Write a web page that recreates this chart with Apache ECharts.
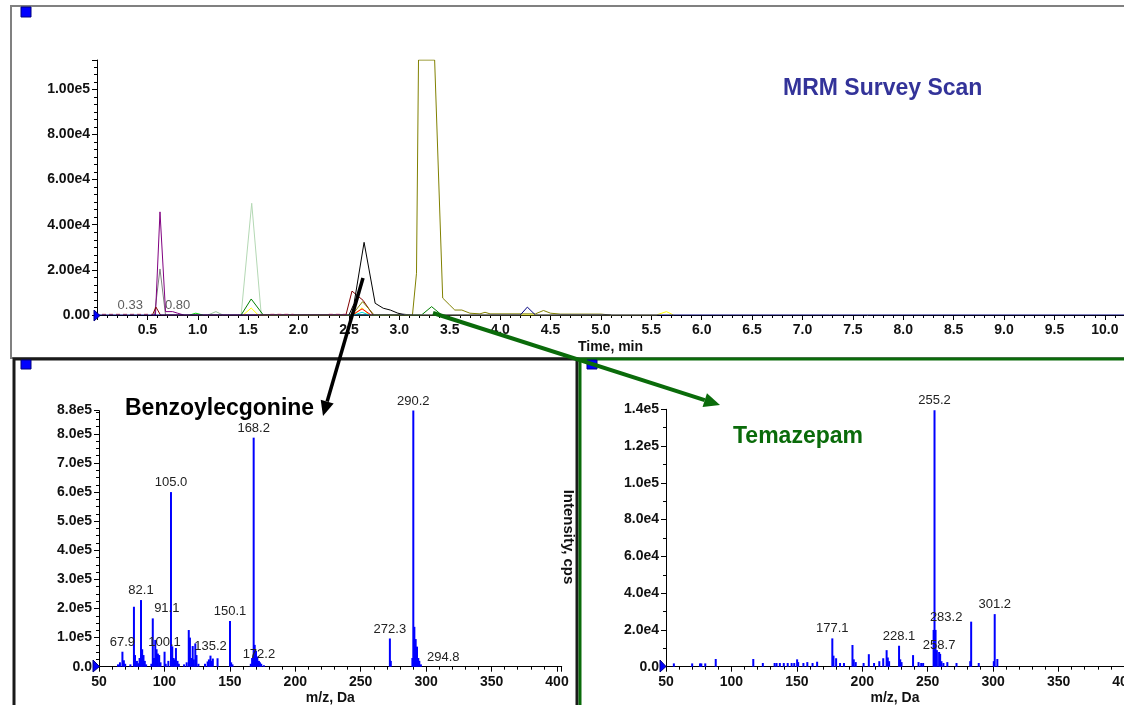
<!DOCTYPE html>
<html>
<head>
<meta charset="utf-8">
<script src="https://cdn.jsdelivr.net/npm/echarts@6/dist/echarts.min.js"></script>
<style>
  html, body { margin: 0; padding: 0; background: #fff; }
  #chart { width: 1124px; height: 705px; }
</style>
</head>
<body>
<div id="chart"></div>
<script>
// MRM survey scan traces, [time min, intensity cps]
var purpleTrace = [[0.55, 0], [0.58, 0], [0.625, 45700], [0.68, 1500], [0.75, 1500], [0.8, 800], [0.86, 0]];
var grayTrace = [[0.57, 0], [0.625, 20400], [0.68, 0], [2.95, 0], [3.02, 600], [3.1, 0]];
var darkRedTrace = [[0.55, 0], [0.585, 3500], [0.63, 0], [2.47, 0], [2.53, 10600], [2.64, 6500], [2.74, 0]];
var paleGreenTrace = [[1.43, 0], [1.535, 49500], [1.63, 0]];
var greenTrace = [[1.43, 0], [1.53, 7100], [1.65, 0], [3.22, 0], [3.32, 3700], [3.42, 0]];
var yellowTrace = [[1.45, 0], [1.53, 3100], [1.6, 0], [2.55, 0], [2.63, 3200], [2.7, 0], [5.55, 0], [5.65, 1500], [5.72, 0]];
var limeTrace = [[0.92, 0], [0.98, 800], [1.05, 0]];
var sageTrace = [[1.1, 0], [1.18, 1500], [1.25, 0]];
var blackTrace = [[2.5, 0], [2.55, 5000], [2.65, 32200], [2.76, 5200], [2.84, 3000], [2.91, 2200], [2.98, 900], [3.05, 0]];
var oliveTrace = [[2.53, 0], [2.635, 5900], [2.75, 0], [3.13, 0], [3.17, 18500], [3.19, 113000], [3.35, 113000], [3.43, 7500],
  [3.5, 4400], [3.55, 2200], [3.62, 2200], [3.7, 800], [3.8, 500], [3.85, 1200], [3.9, 500], [4.35, 500], [4.43, 2000],
  [4.5, 800], [4.6, 400], [5.0, 400], [5.1, 0]];
var redTrace = [[2.53, 0], [2.63, 2700], [2.72, 0]];
var cyanTrace = [[2.55, 0], [2.63, 1200], [2.7, 0]];
var noiseTrace = [[0.05, 300], [0.55, 300], [0.6, '-'], [1.72, 300], [1.95, 300], [2.0, '-'], [2.3, 300], [2.5, 300]];
var navyTrace = [[0, 0], [4.2, 0], [4.27, 3500], [4.35, 0], [10.19, 0]];
var rtLabels = [0.33, 0.80];

// product ion spectra, [m/z, intensity cps]
var benzoylPeaks = [
  [64.5, 8000], [66, 15000], [67.9, 51500], [69, 22000], [70, 10000],
  [74, 8000], [76.7, 206000], [77.5, 40000], [79, 20000], [80, 12000], [81, 30000],
  [82.1, 229000], [83, 60000], [84, 40000], [85, 20000], [86, 8000],
  [90, 10000], [91.1, 166000], [92, 30000], [93, 92000], [94, 60000], [95, 45000], [96, 40000], [97, 15000],
  [100.1, 51500], [101, 10000],
  [103, 20000], [105.0, 600000], [106, 70000], [107, 30000], [108, 25000], [108.8, 64000], [110, 20000], [111, 10000],
  [115, 8000], [117, 15000], [118.6, 126000], [119.5, 100000], [120.5, 30000], [121.6, 71000], [122.5, 25000],
  [123.6, 80000], [124.5, 40000], [126, 10000],
  [131, 10000], [133, 18000], [134, 25000], [135.2, 38000], [136, 20000], [137, 28000], [140.6, 29000],
  [150.1, 157000], [151, 15000], [152, 8000],
  [166, 10000], [167, 30000], [168.2, 787000], [169, 75000], [170, 55000], [171, 35000], [172.2, 20000],
  [173, 15000], [174, 10000], [176, 5000],
  [272.3, 97000], [273, 20000],
  [289.5, 30000], [290.2, 880000], [291, 137000], [292, 95000], [293, 69000], [294, 30000], [294.8, 20000], [296, 8000]
];
var benzoylLabels = [67.9, 82.1, 91.1, 100.1, 105.0, 135.2, 150.1, 168.2, 172.2, 272.3, 290.2, 294.8];

var temazepamPeaks = [
  [56, 1800], [70, 1800], [76, 1800], [77, 1800], [80, 1800], [88, 4200], [116.7, 4200], [124, 2000],
  [133, 2000], [134.5, 2000], [137, 2000], [140, 2000], [143, 2000], [146, 2000], [148, 2000],
  [150.2, 4000], [151, 2500], [155, 2000], [158, 2500], [162, 2000], [165.5, 2700],
  [177.1, 15400], [178, 6000], [180, 4600], [183, 2000], [186, 2000],
  [192.5, 11800], [193.5, 4000], [195, 2500], [201, 2000], [205, 6800], [209, 2000],
  [213, 3000], [216, 4600], [218.6, 9000], [219.5, 5000], [220.5, 3000],
  [228.1, 11400], [229, 4000], [230, 2500], [238.8, 6300], [243, 2500], [245, 2000], [246.5, 2000],
  [254.5, 20000], [255.2, 139500], [256, 20000], [257, 9000], [258.7, 8000], [259.5, 7000], [260.5, 3000],
  [262, 2000], [265, 2500], [272, 2000], [282.5, 3000], [283.2, 24500], [289, 2000],
  [300.5, 3000], [301.2, 28600], [303.2, 4200]
];
var temazepamLabels = [177.1, 228.1, 255.2, 258.7, 283.2, 301.2];

// labels that sit beside their peak in the original
var labelShift = { '91.1': [14, 0], '294.8': [24, 6], '283.2': [-25, 5], '172.2': [0, 3], '258.7': [0, 3] };

var boldFont = 'bold 14px "Liberation Sans", Arial, sans-serif';
var green = '#0a6b0a';

function sci(v, digits) {
  if (v === 0) return (0).toFixed(digits);
  return v.toExponential(digits).replace('e+', 'e');
}

function traceSeries(data, color, extra) {
  var s = {
    type: 'line',
    xAxisIndex: 0,
    yAxisIndex: 0,
    data: data,
    symbol: 'none',
    silent: true,
    connectNulls: false,
    lineStyle: { color: color, width: 1 }
  };
  if (extra) s.lineStyle.type = extra;
  return s;
}

function spectrumSeries(peaks, labels, idx) {
  var data = peaks.map(function (p) {
    var item = { value: p };
    if (labels.indexOf(p[0]) !== -1) {
      item.label = { show: true, offset: labelShift[p[0].toFixed(1)] || [0, 0] };
    }
    return item;
  });
  return {
    type: 'bar',
    xAxisIndex: idx,
    yAxisIndex: idx,
    data: data,
    barWidth: 2,
    silent: true,
    itemStyle: { color: '#0000ff' },
    label: {
      show: false,
      position: 'top',
      distance: 3,
      color: '#222',
      fontSize: 13,
      fontFamily: '"Liberation Sans", Arial, sans-serif',
      formatter: function (p) { return p.value[0].toFixed(1); }
    }
  };
}

function valueAxis(idx, opts) {
  var axis = {
    type: 'value',
    gridIndex: idx,
    splitLine: { show: false },
    axisLine: { show: true, lineStyle: { color: '#000', width: 1 } },
    axisTick: { show: true, length: 5, lineStyle: { color: '#000' } },
    minorTick: { show: true, length: 3, lineStyle: { color: '#000' } },
    axisLabel: { color: '#111', font: boldFont, fontWeight: 'bold', fontSize: 14 }
  };
  for (var k in opts) {
    if (k === 'axisLabel' || k === 'minorTick') {
      for (var j in opts[k]) axis[k][j] = opts[k][j];
    } else {
      axis[k] = opts[k];
    }
  }
  return axis;
}

function arrow(x1, y1, x2, y2, color, width, head) {
  var dx = x2 - x1, dy = y2 - y1;
  var len = Math.sqrt(dx * dx + dy * dy);
  var ux = dx / len, uy = dy / len;
  var bx = x2 - ux * head, by = y2 - uy * head;
  var hw = head * 0.45;
  return [
    { type: 'line', z: 100, shape: { x1: x1, y1: y1, x2: bx, y2: by }, style: { stroke: color, lineWidth: width } },
    {
      type: 'polygon', z: 100,
      shape: { points: [[x2, y2], [bx - uy * hw, by + ux * hw], [bx + uy * hw, by - ux * hw]] },
      style: { fill: color }
    }
  ];
}

var chart = echarts.init(document.getElementById('chart'));

var series = [
  traceSeries(paleGreenTrace, '#b4d8b4'),
  traceSeries(sageTrace, '#9cc49c'),
  traceSeries(grayTrace, '#808080'),
  traceSeries(purpleTrace, '#800080'),
  traceSeries(limeTrace, '#00e000'),
  traceSeries(greenTrace, '#008000'),
  traceSeries(yellowTrace, '#ffff00'),
  traceSeries(cyanTrace, '#00e0e0'),
  traceSeries(redTrace, '#ff0000'),
  traceSeries(darkRedTrace, '#800000'),
  traceSeries(blackTrace, '#000000'),
  traceSeries(oliveTrace, '#808000'),
  traceSeries(noiseTrace, '#d04040', [4, 3]),
  traceSeries(navyTrace, '#000080'),
  {
    type: 'scatter',
    xAxisIndex: 0,
    yAxisIndex: 0,
    symbolSize: 0,
    silent: true,
    data: rtLabels.map(function (t) { return [t, 0]; }),
    label: {
      show: true,
      position: 'top',
      distance: 3,
      color: '#333',
      fontSize: 13,
      fontFamily: '"Liberation Sans", Arial, sans-serif',
      formatter: function (p) { return p.value[0].toFixed(2); }
    }
  },
  spectrumSeries(benzoylPeaks, benzoylLabels, 1),
  spectrumSeries(temazepamPeaks, temazepamLabels, 2)
];

var graphics = [
  // panel frames
  { type: 'rect', z: 1, shape: { x: 11, y: 6, width: 1120, height: 352 }, style: { fill: 'none', stroke: '#808080', lineWidth: 2 } },
  { type: 'rect', z: 2, shape: { x: 14, y: 359, width: 563, height: 352 }, style: { fill: 'none', stroke: '#1a1a1a', lineWidth: 3 } },
  { type: 'rect', z: 2, shape: { x: 580, y: 359, width: 552, height: 352 }, style: { fill: 'none', stroke: green, lineWidth: 3 } },
  // window markers
  { type: 'rect', z: 3, shape: { x: 21, y: 7, width: 10, height: 10 }, style: { fill: '#0000ff', stroke: '#000080', lineWidth: 1 } },
  { type: 'rect', z: 3, shape: { x: 21, y: 360, width: 10, height: 9 }, style: { fill: '#0000ff', stroke: '#000080', lineWidth: 1 } },
  { type: 'rect', z: 3, shape: { x: 587, y: 360, width: 10, height: 9 }, style: { fill: '#0000ff', stroke: '#000080', lineWidth: 1 } },
  { type: 'polygon', z: 50, shape: { points: [[94, 310], [100, 315.5], [94, 321]] }, style: { fill: '#0000ff', stroke: '#000080', lineWidth: 1 } },
  { type: 'polygon', z: 50, shape: { points: [[93, 660], [99.5, 666.5], [93, 672]] }, style: { fill: '#0000ff', stroke: '#000080', lineWidth: 1 } },
  { type: 'polygon', z: 50, shape: { points: [[660, 660], [666, 666.5], [660, 672]] }, style: { fill: '#0000ff', stroke: '#000080', lineWidth: 1 } },
  // titles
  {
    type: 'text', z: 60, x: 783, y: 89,
    style: { text: 'MRM Survey Scan', fill: '#333399', font: 'bold 23px "Liberation Sans", Arial, sans-serif', textAlign: 'left', textVerticalAlign: 'middle' }
  },
  {
    type: 'text', z: 60, x: 125, y: 409,
    style: { text: 'Benzoylecgonine', fill: '#000', font: 'bold 23px "Liberation Sans", Arial, sans-serif', textAlign: 'left', textVerticalAlign: 'middle' }
  },
  {
    type: 'text', z: 60, x: 733, y: 437,
    style: { text: 'Temazepam', fill: green, font: 'bold 23px "Liberation Sans", Arial, sans-serif', textAlign: 'left', textVerticalAlign: 'middle' }
  },
  {
    type: 'text', z: 60, x: 568, y: 537, rotation: -Math.PI / 2,
    style: { text: 'Intensity, cps', fill: '#111', font: 'bold 15px "Liberation Sans", Arial, sans-serif', textAlign: 'center', textVerticalAlign: 'middle' }
  }
];
graphics = graphics.concat(arrow(363, 278, 323, 416, '#000', 3.5, 15));
graphics = graphics.concat(arrow(433, 313, 720, 405, green, 4, 16));

chart.setOption({
  animation: false,
  backgroundColor: '#fff',
  grid: [
    { left: 97, top: 60, right: 0, height: 255, outerBoundsMode: 'none', containLabel: false },
    { left: 99, top: 410.6, width: 462.7, height: 256.1, outerBoundsMode: 'none', containLabel: false },
    { left: 666, top: 409.3, width: 458, height: 257.4, outerBoundsMode: 'none', containLabel: false }
  ],
  xAxis: [
    valueAxis(0, {
      min: 0, max: 10.19, interval: 0.5,
      name: 'Time, min', nameLocation: 'middle', nameGap: 25,
      nameTextStyle: { color: '#111', fontWeight: 'bold', fontSize: 14, fontFamily: '"Liberation Sans", Arial, sans-serif' },
      minorTick: { splitNumber: 5 },
      axisLabel: { showMinLabel: false, showMaxLabel: false, margin: 8, formatter: function (v) { return v.toFixed(1); } }
    }),
    valueAxis(1, {
      min: 50, max: 403.6, interval: 50,
      name: 'm/z, Da', nameLocation: 'middle', nameGap: 24,
      nameTextStyle: { color: '#111', fontWeight: 'bold', fontSize: 14, fontFamily: '"Liberation Sans", Arial, sans-serif' },
      minorTick: { splitNumber: 5 },
      axisLabel: { showMaxLabel: false, margin: 8 }
    }),
    valueAxis(2, {
      min: 50, max: 400, interval: 50,
      name: 'm/z, Da', nameLocation: 'middle', nameGap: 24,
      nameTextStyle: { color: '#111', fontWeight: 'bold', fontSize: 14, fontFamily: '"Liberation Sans", Arial, sans-serif' },
      minorTick: { splitNumber: 5 },
      axisLabel: { margin: 8 }
    })
  ],
  yAxis: [
    valueAxis(0, {
      min: 0, max: 113000, interval: 20000,
      minorTick: { splitNumber: 6 },
      axisLabel: { showMaxLabel: false, margin: 7, formatter: function (v) { return sci(v, 2); } }
    }),
    valueAxis(1, {
      min: 0, max: 880000, interval: 100000,
      minorTick: { splitNumber: 4 },
      axisLabel: { margin: 7, formatter: function (v) { return sci(v, 1); } }
    }),
    valueAxis(2, {
      min: 0, max: 140000, interval: 20000,
      minorTick: { splitNumber: 2 },
      axisLabel: { margin: 7, formatter: function (v) { return sci(v, 1); } }
    })
  ],
  series: series,
  graphic: graphics
});
</script>
</body>
</html>
